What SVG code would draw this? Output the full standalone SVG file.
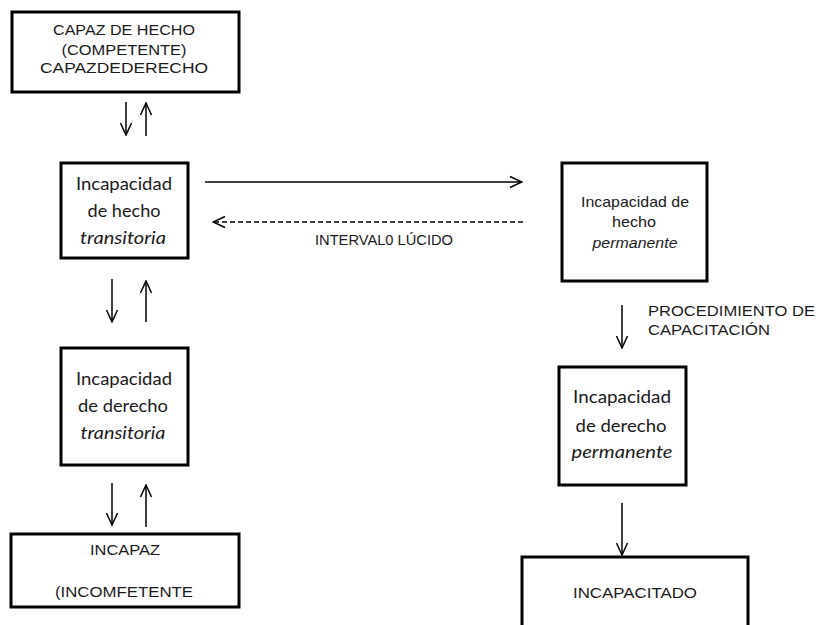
<svg xmlns="http://www.w3.org/2000/svg" width="818" height="625" viewBox="0 0 818 625">
<defs>
<marker id="open" viewBox="0 0 14 14" refX="13" refY="7" markerWidth="14" markerHeight="14" markerUnits="userSpaceOnUse" orient="auto">
<path d="M1,1.5 L13,7 L1,12.5" fill="none" stroke="#000" stroke-width="1.5"/>
</marker>
</defs>
<style>
.box{fill:#fff;stroke:#000;stroke-width:3}
.a{font-family:"Liberation Sans",Arial,sans-serif;font-size:15px;fill:#1a1a1a}
.c{font-family:Lato,"Noto Sans",sans-serif;font-size:17px;fill:#1a1a1a}
.i{font-style:italic}
.ln{stroke:#000;stroke-width:1.5;fill:none}
.dash{stroke-dasharray:5,3}
</style>
<rect width="818" height="625" fill="#fff"/>
<g id="capaz">
<rect class="box" x="12" y="12" width="227" height="80"/>
<text class="a" x="124" y="35" text-anchor="middle" textLength="142" lengthAdjust="spacingAndGlyphs">CAPAZ DE HECHO</text>
<text class="a" x="124" y="55" text-anchor="middle" textLength="125" lengthAdjust="spacingAndGlyphs">(COMPETENTE)</text>
<text class="a" x="124" y="73" text-anchor="middle" textLength="168" lengthAdjust="spacingAndGlyphs">CAPAZDEDERECHO</text>
</g>
<g id="inc-hecho-trans">
<rect class="box" x="61" y="163" width="127" height="95"/>
<text class="c" x="124" y="190" text-anchor="middle" textLength="96" lengthAdjust="spacingAndGlyphs">Incapacidad</text>
<text class="c" x="124" y="217" text-anchor="middle" textLength="73" lengthAdjust="spacingAndGlyphs">de hecho</text>
<text class="c i" x="123" y="244" text-anchor="middle" textLength="86" lengthAdjust="spacingAndGlyphs">transitoria</text>
</g>
<g id="inc-derecho-trans">
<rect class="box" x="61" y="348" width="127" height="117"/>
<text class="c" x="124" y="385" text-anchor="middle" textLength="96" lengthAdjust="spacingAndGlyphs">Incapacidad</text>
<text class="c" x="123" y="412" text-anchor="middle" textLength="90" lengthAdjust="spacingAndGlyphs">de derecho</text>
<text class="c i" x="123" y="439" text-anchor="middle" textLength="85" lengthAdjust="spacingAndGlyphs">transitoria</text>
</g>
<g id="incapaz">
<rect class="box" x="11" y="534" width="228" height="73"/>
<text class="a" x="125" y="555" text-anchor="middle" textLength="70" lengthAdjust="spacingAndGlyphs">INCAPAZ</text>
<text class="a" x="124" y="597" text-anchor="middle" textLength="138" lengthAdjust="spacingAndGlyphs">(INCOMFETENTE</text>
</g>
<g id="inc-hecho-perm">
<rect class="box" x="562" y="163" width="145" height="118"/>
<text class="a" x="635" y="207" text-anchor="middle" textLength="108" lengthAdjust="spacingAndGlyphs">Incapacidad de</text>
<text class="a" x="634" y="227" text-anchor="middle" textLength="44" lengthAdjust="spacingAndGlyphs">hecho</text>
<text class="a i" x="635" y="248" text-anchor="middle" textLength="85" lengthAdjust="spacingAndGlyphs">permanente</text>
</g>
<g id="inc-derecho-perm">
<rect class="box" x="559" y="367" width="127" height="118"/>
<text class="c" x="622" y="403" text-anchor="middle" textLength="98" lengthAdjust="spacingAndGlyphs">Incapacidad</text>
<text class="c" x="621" y="432" text-anchor="middle" textLength="91" lengthAdjust="spacingAndGlyphs">de derecho</text>
<text class="c i" x="622" y="458" text-anchor="middle" textLength="101" lengthAdjust="spacingAndGlyphs">permanente</text>
</g>
<g id="incapacitado">
<rect class="box" x="522" y="557" width="226" height="90"/>
<text class="a" x="635" y="598" text-anchor="middle" textLength="124" lengthAdjust="spacingAndGlyphs">INCAPACITADO</text>
</g>
<g id="connectors">
<line class="ln" x1="126" y1="102" x2="126" y2="135" marker-end="url(#open)"/>
<line class="ln" x1="146" y1="136" x2="146" y2="103" marker-end="url(#open)"/>
<line class="ln" x1="112" y1="279" x2="112" y2="322" marker-end="url(#open)"/>
<line class="ln" x1="146" y1="322" x2="146" y2="281" marker-end="url(#open)"/>
<line class="ln" x1="112" y1="483" x2="112" y2="525" marker-end="url(#open)"/>
<line class="ln" x1="146" y1="527" x2="146" y2="485" marker-end="url(#open)"/>
<line class="ln" x1="205" y1="182" x2="522" y2="182" marker-end="url(#open)"/>
<line class="ln dash" x1="523" y1="222" x2="213" y2="222" marker-end="url(#open)"/>
<text class="a" x="315" y="245" textLength="138" lengthAdjust="spacingAndGlyphs" font-size="13">INTERVAL0  LÚCIDO</text>
<line class="ln" x1="622" y1="305" x2="622" y2="348" marker-end="url(#open)"/>
<text class="a" x="648" y="316" textLength="167" lengthAdjust="spacingAndGlyphs">PROCEDIMIENTO DE</text>
<text class="a" x="648" y="335" textLength="122" lengthAdjust="spacingAndGlyphs">CAPACITACIÓN</text>
<line class="ln" x1="622" y1="503" x2="622" y2="555" marker-end="url(#open)"/>
</g>
</svg>
